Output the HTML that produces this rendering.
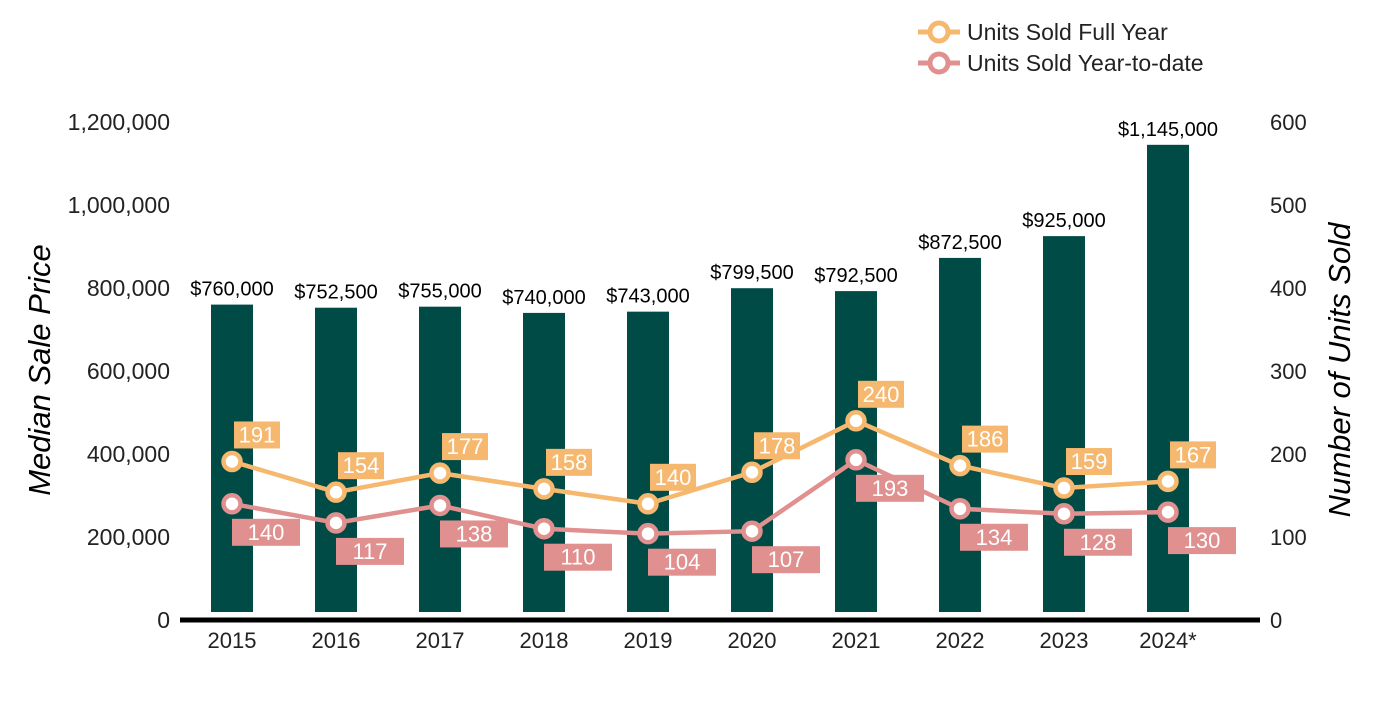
<!DOCTYPE html>
<html><head><meta charset="utf-8"><style>
body{margin:0;background:#fff;}
svg{font-family:"Liberation Sans",Arial,sans-serif;}
</style></head><body>
<svg id="chart" width="1400" height="700" viewBox="0 0 1400 700">
<g id="legend">
 <g>
  <line x1="918" y1="32" x2="960" y2="32" stroke="#F6B86E" stroke-width="5"/>
  <circle cx="939" cy="32" r="9" fill="#fff" stroke="#F6B86E" stroke-width="5"/>
  <text x="967" y="40" font-size="23" fill="#222">Units Sold Full Year</text>
 </g>
 <g>
  <line x1="918" y1="63" x2="960" y2="63" stroke="#E0908F" stroke-width="5"/>
  <circle cx="939" cy="63" r="9" fill="#fff" stroke="#E0908F" stroke-width="5"/>
  <text x="967" y="71" font-size="23" fill="#222">Units Sold Year-to-date</text>
 </g>
</g>
<text transform="translate(50,370) rotate(-90)" text-anchor="middle" font-size="31" font-style="italic" fill="#000">Median Sale Price</text>
<text transform="translate(1350,370) rotate(-90)" text-anchor="middle" font-size="31" font-style="italic" fill="#000">Number of Units Sold</text>
<g id="left-ticks"></g><g id="right-ticks"></g>
<g id="bars"></g><g id="lines"></g>
</svg>
<script>
const categories=["2015","2016","2017","2018","2019","2020","2021","2022","2023","2024*"];
const prices=[760000,752500,755000,740000,743000,799500,792500,872500,925000,1145000];
const priceLabels=["$760,000","$752,500","$755,000","$740,000","$743,000","$799,500","$792,500","$872,500","$925,000","$1,145,000"];
const fullYear=[191,154,177,158,140,178,240,186,159,167];
const ytd=[140,117,138,110,104,107,193,134,128,130];
const leftTicks=[0,200000,400000,600000,800000,1000000,1200000];
const rightTicks=[0,100,200,300,400,500,600];

const NS="http://www.w3.org/2000/svg";
const y0=620,yTop=122;
const yL=v=>y0-(v/1200000)*(y0-yTop);
const yR=v=>y0-(v/600)*(y0-yTop);
const xC=i=>232+i*104;
function mk(t,a,p){const e=document.createElementNS(NS,t);for(const k in a)e.setAttribute(k,a[k]);p.appendChild(e);return e;}
const fmt=n=>n.toLocaleString("en-US");

const lt=document.getElementById("left-ticks");
leftTicks.forEach(v=>{const t=mk("text",{x:170,y:yL(v)+8,"text-anchor":"end","font-size":23,fill:"#222"},lt);t.textContent=fmt(v);

});
const rt=document.getElementById("right-ticks");
rightTicks.forEach(v=>{const t=mk("text",{x:1270,y:yR(v)+8,"font-size":22,fill:"#222"},rt);t.textContent=v;

});

const bg=document.getElementById("bars");
categories.forEach((c,i)=>{
 const b=mk("rect",{x:xC(i)-21,y:yL(prices[i]),width:42,height:612-yL(prices[i]),fill:"#004B45"},bg);
 
 
 const l=mk("text",{x:xC(i),y:yL(prices[i])-9,"text-anchor":"middle","font-size":20,fill:"#000"},bg);l.textContent=priceLabels[i];
 
 
 const xl=mk("text",{x:xC(i),y:648,"text-anchor":"middle","font-size":22,fill:"#222"},bg);xl.textContent=c;
 
 
});
const ax=mk("line",{x1:180,y1:620,x2:1260,y2:620,stroke:"#000","stroke-width":5},bg);



const lg=document.getElementById("lines");
function series(vals,color,name,lblFn){
 const p=mk("polyline",{points:vals.map((v,i)=>xC(i)+","+yR(v)).join(" "),fill:"none",stroke:color,"stroke-width":4.5},lg);
 
 
 vals.forEach((v,i)=>{
  const c=mk("circle",{cx:xC(i),cy:yR(v),r:8.5,fill:"#fff",stroke:color,"stroke-width":4.5},lg);
  
  
  const [bx,by,bw]=lblFn(xC(i),yR(v));
  const r=mk("rect",{x:bx,y:by,width:bw,height:27,fill:color},lg);
  
  
  const t=mk("text",{x:bx+bw/2,y:by+21,"text-anchor":"middle","font-size":22,fill:"#fff"},lg);t.textContent=v;
  
  
 });
}
series(ytd,"#E0908F","ytd",(x,y)=>[x,y+15,68]);
series(fullYear,"#F6B86E","full-year",(x,y)=>[x+2,y-40,46]);
</script>
</body></html>
